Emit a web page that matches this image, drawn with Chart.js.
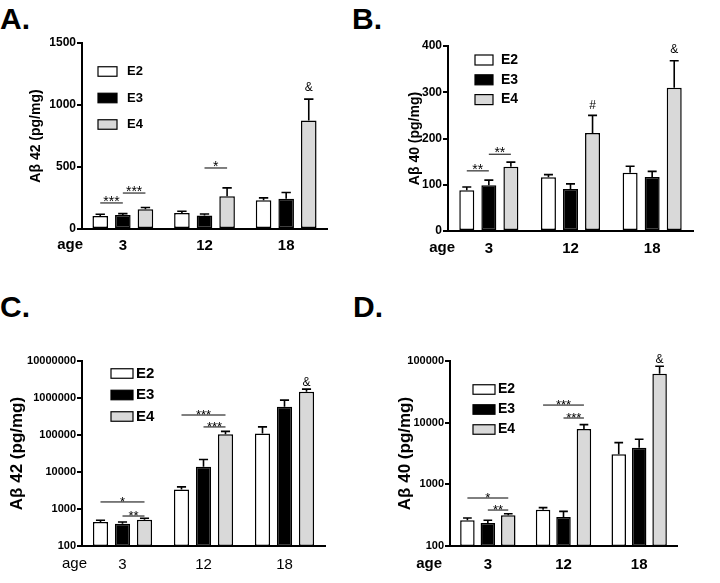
<!DOCTYPE html>
<html>
<head>
<meta charset="utf-8">
<script src="https://cdn.jsdelivr.net/npm/chart.js@4.4.0/dist/chart.umd.min.js"></script>
<style>
  body { margin: 0; background: #fff; width: 720px; height: 583px; position: relative; overflow: hidden; }
  canvas { position: absolute; }
  .tag { position: absolute; font: bold 30px 'Liberation Sans', Arial, sans-serif; line-height: 1; color: #000; }
</style>
</head>
<body>
<div class="tag" style="left:0;top:4px">A.</div>
<div class="tag" style="left:352px;top:4px">B.</div>
<div class="tag" style="left:0;top:292px">C.</div>
<div class="tag" style="left:353px;top:292px">D.</div>
<canvas id="panelA" width="360" height="290" style="left:0;top:0"></canvas>
<canvas id="panelB" width="360" height="290" style="left:360px;top:0"></canvas>
<canvas id="panelC" width="360" height="293" style="left:0;top:290px"></canvas>
<canvas id="panelD" width="360" height="293" style="left:360px;top:290px"></canvas>
<script>
const FONT = "'Liberation Sans', Arial, sans-serif"

const ages = ['3', '12', '18']
const genotypes = ['E2', 'E3', 'E4']
const fills = ['#ffffff', '#000000', '#d9d9d9']

// A: Abeta42, pg/mg (linear)
const a42E2 = [105, 130, 232]
const a42E3 = [113, 108, 243]
const a42E4 = [159, 264, 874]
const a42E2Sem = [14, 13, 19]
const a42E3Sem = [11, 13, 51]
const a42E4Sem = [14, 68, 173]
const aTicks = [0, 500, 1000, 1500]

// B: Abeta40, pg/mg (linear)
const b40E2 = [88, 116, 126]
const b40E3 = [99, 91, 117]
const b40E4 = [139, 212, 310]
const b40E2Sem = [7, 6, 14]
const b40E3Sem = [11, 11, 12]
const b40E4Sem = [10, 38, 58]
const bTicks = [0, 100, 200, 300, 400]

// C: Abeta42, pg/mg (log)
const c42E2 = [447, 3350, 110000]
const c42E3 = [402, 13800, 578000]
const c42E4 = [516, 105000, 1480000]
const c42E2Sem = [48, 610, 56000]
const c42E3Sem = [45, 8000, 298000]
const c42E4Sem = [45, 20000, 260000]
const cTicks = [100, 1000, 10000, 100000, 1000000, 10000000]

// D: Abeta40, pg/mg (log)
const d40E2 = [261, 388, 3065]
const d40E3 = [236, 295, 3930]
const d40E4 = [314, 7890, 62300]
const d40E2Sem = [23, 31, 1675]
const d40E3Sem = [25, 70, 1440]
const d40E4Sem = [20, 1400, 19700]
const dTicks = [100, 1000, 10000, 100000]

// significance marks: age group, from/to genotype, height in data units
const aSig = [
  { group: 0, from: 0, to: 1, y: 210, text: '***' },
  { group: 0, from: 1, to: 2, y: 290, text: '***' },
  { group: 1, from: 1, to: 2, y: 492, text: '*' },
  { group: 2, from: 2, to: 2, y: 1137, text: '&' }
]
const bSig = [
  { group: 0, from: 0, to: 1, y: 130, text: '**' },
  { group: 0, from: 1, to: 2, y: 166, text: '**' },
  { group: 1, from: 2, to: 2, y: 272, text: '#' },
  { group: 2, from: 2, to: 2, y: 391, text: '&' }
]
const cSig = [
  { group: 0, from: 0, to: 2, y: 1550, text: '*' },
  { group: 0, from: 1, to: 2, y: 646, text: '**' },
  { group: 1, from: 0, to: 2, y: 347000, text: '***' },
  { group: 1, from: 1, to: 2, y: 165000, text: '***' },
  { group: 2, from: 2, to: 2, y: 2540000, text: '&' }
]
const dSig = [
  { group: 0, from: 0, to: 2, y: 600, text: '*' },
  { group: 0, from: 1, to: 2, y: 383, text: '**' },
  { group: 1, from: 0, to: 2, y: 19300, text: '***' },
  { group: 1, from: 1, to: 2, y: 11900, text: '***' },
  { group: 2, from: 2, to: 2, y: 107000, text: '&' }
]

// error bars, brackets, legend and the "age" label
const extras = {
  id: 'extras',
  afterDatasetsDraw (chart) {
    const ctx = chart.ctx
    const y = chart.scales.y
    ctx.save()
    ctx.strokeStyle = '#000'
    ctx.lineWidth = 1.6
    chart.data.datasets.forEach((ds, i) => {
      chart.getDatasetMeta(i).data.forEach((bar, j) => {
        const top = y.getPixelForValue(ds.data[j] + ds.sem[j])
        const half = bar.width * 0.3
        ctx.beginPath()
        ctx.moveTo(bar.x, bar.y)
        ctx.lineTo(bar.x, top)
        ctx.moveTo(bar.x - half, top)
        ctx.lineTo(bar.x + half, top)
        ctx.stroke()
      })
    })
    ctx.restore()
  },
  afterDraw (chart, args, opts) {
    const ctx = chart.ctx
    const y = chart.scales.y
    ctx.save()
    ctx.fillStyle = '#000'
    ctx.strokeStyle = '#000'
    // brackets
    opts.sig.forEach(s => {
      const x1 = chart.getDatasetMeta(s.from).data[s.group].x
      const x2 = chart.getDatasetMeta(s.to).data[s.group].x
      const yy = y.getPixelForValue(s.y)
      ctx.textAlign = 'center'
      if (s.from === s.to) {
        ctx.font = '12px ' + FONT
        ctx.textBaseline = 'middle'
        ctx.fillText(s.text, x1, yy)
      } else {
        ctx.lineWidth = 1
        ctx.beginPath()
        ctx.moveTo(x1, yy)
        ctx.lineTo(x2, yy)
        ctx.stroke()
        ctx.font = opts.sigSize + 'px ' + FONT
        ctx.textBaseline = 'alphabetic'
        ctx.fillText(s.text, (x1 + x2) / 2, yy + opts.sigShift)
      }
    })
    // legend
    const lg = opts.legend
    chart.data.datasets.forEach((ds, i) => {
      const cy = lg.y + i * lg.gap
      ctx.fillStyle = ds.backgroundColor
      ctx.fillRect(lg.x, cy - lg.h / 2, lg.w, lg.h)
      ctx.lineWidth = 1.2
      ctx.strokeRect(lg.x, cy - lg.h / 2, lg.w, lg.h)
      ctx.fillStyle = '#000'
      ctx.font = 'bold ' + lg.size + 'px ' + FONT
      ctx.textAlign = 'left'
      ctx.textBaseline = 'middle'
      ctx.fillText(ds.label, lg.x + lg.w + lg.space, cy)
    })
    // "age" to the left of the category labels
    ctx.font = opts.ageFont
    ctx.textAlign = 'right'
    ctx.textBaseline = 'middle'
    ctx.fillText('age', opts.ageRight, chart.chartArea.bottom + opts.ageDrop)
    ctx.restore()
  }
}

function makePanel (id, cfg) {
  return new Chart(document.getElementById(id), {
    type: 'bar',
    data: {
      labels: ages,
      datasets: genotypes.map((g, i) => ({
        label: g,
        data: cfg.values[i],
        sem: cfg.sems[i],
        backgroundColor: fills[i],
        borderColor: '#000',
        borderWidth: 1.5,
        borderSkipped: false,
        categoryPercentage: cfg.cat,
        barPercentage: cfg.bar
      }))
    },
    options: {
      responsive: false,
      animation: false,
      layout: { padding: cfg.pad },
      plugins: {
        legend: { display: false },
        tooltip: { enabled: false },
        extras: {
          sig: cfg.sig,
          sigSize: cfg.sigSize,
          sigShift: cfg.sigShift,
          legend: cfg.legend,
          ageFont: cfg.xFont,
          ageRight: cfg.ageRight,
          ageDrop: cfg.ageDrop
        }
      },
      scales: {
        x: {
          grid: { display: false, drawTicks: false },
          border: { display: true, color: '#000', width: 2 },
          ticks: {
            color: '#000',
            font: { family: FONT, size: 15, weight: cfg.xWeight },
            padding: cfg.xPad,
            maxRotation: 0
          },
          afterFit: s => { s.height = 30 }
        },
        y: {
          type: cfg.log ? 'logarithmic' : 'linear',
          min: cfg.ticks[0],
          max: cfg.ticks[cfg.ticks.length - 1],
          afterBuildTicks: s => { s.ticks = cfg.ticks.map(v => ({ value: v })) },
          ticks: {
            callback: v => String(v),
            autoSkip: false,
            color: '#000',
            font: { family: FONT, size: cfg.tickSize, weight: 'bold' },
            padding: 1
          },
          grid: { drawOnChartArea: false, drawTicks: true, tickLength: 5, color: '#000', lineWidth: 2 },
          border: { color: '#000', width: 2 },
          title: {
            display: true,
            text: cfg.title,
            color: '#000',
            font: { family: FONT, size: cfg.titleSize, weight: 'bold' },
            padding: 0
          },
          afterFit: s => { s.width = cfg.yWidth }
        }
      }
    },
    plugins: [extras]
  })
}

makePanel('panelA', {
  values: [a42E2, a42E3, a42E4], sems: [a42E2Sem, a42E3Sem, a42E4Sem],
  ticks: aTicks, log: false, title: 'Aβ 42 (pg/mg)', titleSize: 14, tickSize: 12,
  pad: { left: 28, right: 33, top: 43, bottom: 31 }, yWidth: 54,
  cat: 0.83, bar: 0.69, xWeight: 'bold', xFont: 'bold 15px ' + FONT, xPad: 8,
  ageRight: 83, ageDrop: 16,
  sig: aSig, sigSize: 14, sigShift: 3,
  legend: { x: 98, y: 71.5, gap: 26.5, w: 19, h: 9.5, space: 10, size: 13 }
})

makePanel('panelB', {
  values: [b40E2, b40E3, b40E4], sems: [b40E2Sem, b40E3Sem, b40E4Sem],
  ticks: bTicks, log: false, title: 'Aβ 40 (pg/mg)', titleSize: 14, tickSize: 12,
  pad: { left: 47, right: 27, top: 46, bottom: 29 }, yWidth: 41,
  cat: 0.81, bar: 0.68, xWeight: 'bold', xFont: 'bold 15px ' + FONT, xPad: 9,
  ageRight: 95, ageDrop: 17,
  sig: bSig, sigSize: 14, sigShift: 3,
  legend: { x: 115, y: 60, gap: 19.8, w: 18, h: 10, space: 8, size: 14 }
})

makePanel('panelC', {
  values: [c42E2, c42E3, c42E4], sems: [c42E2Sem, c42E3Sem, c42E4Sem],
  ticks: cTicks, log: true, title: 'Aβ 42 (pg/mg)', titleSize: 17, tickSize: 11,
  pad: { left: 7, right: 35, top: 71, bottom: 7 }, yWidth: 75,
  cat: 0.815, bar: 0.69, xWeight: 'normal', xFont: '15px ' + FONT, xPad: 10,
  ageRight: 87, ageDrop: 18,
  sig: cSig, sigSize: 13, sigShift: 4,
  legend: { x: 111, y: 83.5, gap: 21.5, w: 22, h: 9.5, space: 3, size: 15 }
})

makePanel('panelD', {
  values: [d40E2, d40E3, d40E4], sems: [d40E2Sem, d40E3Sem, d40E4Sem],
  ticks: dTicks, log: true, title: 'Aβ 40 (pg/mg)', titleSize: 17, tickSize: 11,
  pad: { left: 35, right: 43, top: 71, bottom: 7 }, yWidth: 55,
  cat: 0.81, bar: 0.71, xWeight: 'bold', xFont: 'bold 15px ' + FONT, xPad: 10,
  ageRight: 82, ageDrop: 18,
  sig: dSig, sigSize: 13, sigShift: 4,
  legend: { x: 113, y: 99.5, gap: 20, w: 22, h: 9.5, space: 3, size: 14 }
})
</script>
</body>
</html>
